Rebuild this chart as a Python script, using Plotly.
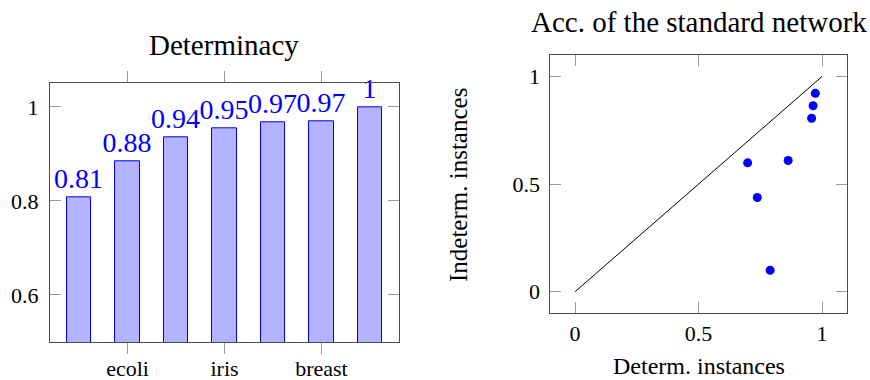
import plotly.graph_objects as go

# ---- data ----
bar_positions = [0, 1, 2, 3, 4, 5, 6]
determinacy = [0.808, 0.884, 0.936, 0.954, 0.967, 0.969, 1.0]
bar_tick_positions = [1, 3, 5]
bar_tick_labels = ["ecoli", "iris", "breast"]

acc_determ = [0.699, 0.738, 0.790, 0.863, 0.958, 0.964, 0.973]
acc_indeterm = [0.599, 0.438, 0.100, 0.610, 0.806, 0.864, 0.922]
diag_x = [0, 1]
diag_y = [0, 1]

FONT = "Liberation Serif"
AXIS_COLOR = "#4d4d4d"
TICK_COLOR = "#9a9a9a"

bar_labels = [f"{round(v, 2):g}" for v in determinacy]

fig = go.Figure()
fig.add_trace(go.Bar(
    x=bar_positions, y=determinacy, width=0.5,
    marker=dict(color="rgb(179,179,255)", line=dict(color="blue", width=1)),
    text=bar_labels, textposition="outside", constraintext="none",
    textfont=dict(family=FONT, size=28, color="blue"),
    cliponaxis=False, xaxis="x", yaxis="y", showlegend=False,
))
fig.add_trace(go.Scatter(
    x=diag_x, y=diag_y, mode="lines", line=dict(color="black", width=1),
    xaxis="x2", yaxis="y2", showlegend=False,
))
fig.add_trace(go.Scatter(
    x=acc_determ, y=acc_indeterm, mode="markers",
    marker=dict(color="blue", size=9),
    xaxis="x2", yaxis="y2", showlegend=False,
))

common = dict(showgrid=False, zeroline=False, showline=True, linecolor=AXIS_COLOR,
              linewidth=1, mirror="ticks", tickcolor=TICK_COLOR, ticklen=11,
              tickwidth=1, automargin=False,
              tickfont=dict(family=FONT, size=22, color="black"))

W, H = 870, 380

def px(x):
    return x / W

def py(y):
    return 1 - y / H

fig.update_layout(
    width=W, height=H, margin=dict(l=0, r=0, t=0, b=0, autoexpand=False),
    paper_bgcolor="white", plot_bgcolor="white",
    bargap=0,
    xaxis=dict(domain=[px(50), px(399)], range=[-0.6, 6.6], anchor="y",
               tickvals=bar_tick_positions, ticktext=bar_tick_labels,
               ticks="outside", ticklabelstandoff=-4, **common),
    yaxis=dict(domain=[py(342), py(83.3)], range=[0.5, 1.05], anchor="x",
               tickvals=[0.6, 0.8, 1.0], ticktext=["0.6", "0.8", "1"],
               ticks="inside", ticklabelstandoff=6, **common),
    xaxis2=dict(domain=[px(550.3), px(846.7)], range=[-0.1, 1.1], anchor="y2",
                tickvals=[0, 0.5, 1], ticktext=["0", "0.5", "1"], ticks="inside",
                **common),
    yaxis2=dict(domain=[py(313.3), py(55)], range=[-0.1, 1.1], anchor="x2",
                tickvals=[0, 0.5, 1], ticktext=["0", "0.5", "1"], ticks="inside",
                ticklabelstandoff=5, **common),
    annotations=[
        dict(text="Determinacy", x=px(224.5), y=py(45), xref="paper", yref="paper",
             showarrow=False, xanchor="center", yanchor="middle",
             font=dict(family=FONT, size=29, color="black")),
        dict(text="Acc. of the standard network", x=px(698.5), y=py(22), xref="paper", yref="paper",
             showarrow=False, xanchor="center", yanchor="middle",
             font=dict(family=FONT, size=29, color="black")),
        dict(text="Determ. instances", x=px(698.8), y=py(366), xref="paper", yref="paper",
             showarrow=False, xanchor="center", yanchor="middle",
             font=dict(family=FONT, size=24, color="black")),
        dict(text="Indeterm. instances", x=px(458), y=py(185), xref="paper", yref="paper",
             showarrow=False, xanchor="center", yanchor="middle", textangle=-90,
             font=dict(family=FONT, size=25, color="black")),
    ],
)

fig.write_html("out.html", config={"displayModeBar": False},
               post_script="document.body.style.margin='0';document.body.style.overflow='hidden';")
